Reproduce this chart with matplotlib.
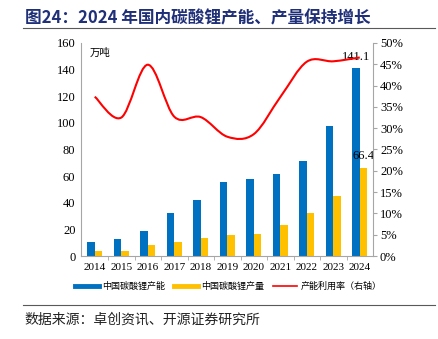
import numpy as np
import matplotlib
matplotlib.use("Agg")
import matplotlib.pyplot as plt
from matplotlib.path import Path
from matplotlib.patches import PathPatch
from matplotlib.lines import Line2D

plt.rcParams['font.family'] = ['Noto Sans CJK SC', 'DejaVu Sans']

# data
years = ['2014', '2015', '2016', '2017', '2018', '2019', '2020', '2021', '2022', '2023', '2024']
capacity = [10.5, 12.6, 18.8, 32.1, 42.4, 55.5, 57.5, 61.3, 71.3, 98.0, 141.1]   # 万吨
output = [3.8, 4.0, 8.5, 10.5, 13.8, 15.6, 16.3, 23.1, 32.1, 44.7, 66.4]         # 万吨
utilization = [37.4, 32.5, 44.9, 32.7, 32.6, 28.0, 28.6, 37.3, 45.6, 45.7, 46.6]  # %

blue = '#0070C0'
yellow = '#FFC000'
red = '#FF0000'
grey = '#A6A6A6'
serif = 'Liberation Serif'

fig = plt.figure(figsize=(4.39, 3.39), dpi=100)
ax = fig.add_axes([0.1845, 0.2448, 0.6652, 0.6284])

x = np.arange(len(years))
w = 0.29
ax.bar(x - w / 2, capacity, width=w, color=blue, zorder=2)
ax.bar(x + w / 2, output, width=w, color=yellow, zorder=2)

ax.set_xlim(-0.52, 10.5)
ax.set_ylim(0, 160)
ax.set_yticks(range(0, 161, 20))
ax.set_xticks(x)
ax.set_xticklabels(years, fontfamily=serif, fontsize=8)
for t in ax.get_yticklabels():
    t.set_fontfamily(serif)
    t.set_fontsize(9)
ax.set_xticks(x[:-1] + 0.5, minor=True)
ax.tick_params(axis='x', which='major', length=0, pad=5)
ax.tick_params(axis='x', which='minor', length=3, color=grey, direction='out')
ax.tick_params(axis='y', length=0, pad=4)
for s in ['top', 'right']:
    ax.spines[s].set_visible(False)
for s in ['left', 'bottom']:
    ax.spines[s].set_color(grey)
    ax.spines[s].set_linewidth(0.8)

ax.text(0.03, 0.975, '万吨', transform=ax.transAxes, fontsize=7.5, va='top', ha='left')

# data labels on the last year
ax.annotate(f'{capacity[-1]:.1f}', (x[-1] - w / 2, capacity[-1]), xytext=(0, 4),
            textcoords='offset points', ha='center', va='bottom', fontfamily=serif, fontsize=9)
ax.annotate(f'{output[-1]:.1f}', (x[-1] + w / 2, output[-1]), xytext=(0, 4),
            textcoords='offset points', ha='center', va='bottom', fontfamily=serif, fontsize=9)

# right axis: smoothed utilisation line
ax2 = ax.twinx()
ax2.set_ylim(0, 50)
ax2.set_yticks(range(0, 51, 5))
ax2.set_yticklabels([f'{v}%' for v in range(0, 51, 5)], fontfamily=serif, fontsize=9)
ax2.tick_params(axis='y', length=3, color=grey, direction='out', pad=2)
for s in ['top', 'left', 'bottom']:
    ax2.spines[s].set_visible(False)
ax2.spines['right'].set_color(grey)
ax2.spines['right'].set_linewidth(0.8)

# Catmull-Rom style bezier through the points (like Excel smoothed line)
pts = np.column_stack([x, utilization]).astype(float)
verts = [pts[0]]
codes = [Path.MOVETO]
for i in range(len(pts) - 1):
    p0 = pts[i - 1] if i > 0 else pts[i]
    p1 = pts[i]
    p2 = pts[i + 1]
    p3 = pts[i + 2] if i + 2 < len(pts) else pts[i + 1]
    c1 = p1 + (p2 - p0) / 6
    c2 = p2 - (p3 - p1) / 6
    verts += [c1, c2, p2]
    codes += [Path.CURVE4] * 3
ax2.add_patch(PathPatch(Path(verts, codes), facecolor='none', edgecolor=red, lw=1.5, zorder=3))

# legend
handles = [Line2D([], [], color=blue, lw=3.5),
           Line2D([], [], color=yellow, lw=3.5),
           Line2D([], [], color=red, lw=1.2)]
labels = ['中国碳酸锂产能', '中国碳酸锂产量', '产能利用率（右轴）']
fig.legend(handles, labels, loc='center', bbox_to_anchor=(0.52, 0.155), ncol=3,
           frameon=False, fontsize=6.5, handlelength=2.6, columnspacing=1.0, handletextpad=0.4)

# title, rules and source
fig.text(0.057, 0.945, '图24：2024 年国内碳酸锂产能、产量保持增长', fontsize=12, fontweight='bold',
         color='#1F2F78', va='center', ha='left')
fig.add_artist(Line2D([0.052, 0.99], [0.917, 0.917], color='#595959', lw=0.8))
fig.add_artist(Line2D([0.052, 0.99], [0.1, 0.1], color='#595959', lw=0.8))
fig.text(0.055, 0.057, '数据来源：卓创资讯、开源证券研究所', fontsize=10, color='#222222',
         va='center', ha='left')

fig.savefig('out.png', dpi=100)
